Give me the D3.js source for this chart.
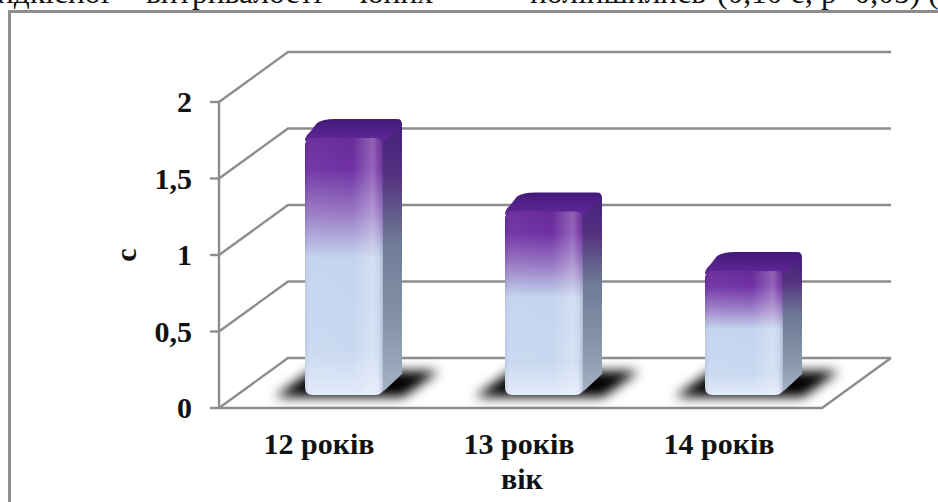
<!DOCTYPE html>
<html>
<head>
<meta charset="utf-8">
<script src="https://cdn.jsdelivr.net/npm/d3@7/dist/d3.min.js"></script>
<style>
html,body{margin:0;padding:0;background:#fff;}
svg{display:block;}
text{font-family:"Liberation Serif",serif;}
</style>
</head>
<body>
<svg id="chart" width="938" height="502"></svg>
<script>
// Chart data
const categories = ["12 років", "13 років", "14 років"];
const values = [1.68, 1.2, 0.81];
const yTicks = [0, 0.5, 1, 1.5, 2];
const yTickLabels = ["0", "0,5", "1", "1,5", "2"];
const yTitle = "с";
const xTitle = "вік";
const runningText = [
  ["ндкісної", -3], ["витривалості", 146], ["юних", 360],
  ["поліпшились", 530], ["(0,10 с; р<0,05) (", 717]
];

const svg = d3.select("#chart");
const defs = svg.append("defs");

const y = d3.scaleLinear().domain([0, 2]).range([408, 102]);
const x = d3.scaleBand().domain(categories).range([219, 819]);
const floorLeft = 219, floorRight = 822;

// Oblique offsets of the 3D projection
const wall = { dx: 69, dy: -50 };
const bar = { w: 78, dx: 19, dy: -19, inset: 86, baseLift: 13 };

function gradient(id, stops, horizontal) {
  const g = defs.append("linearGradient").attr("id", id)
    .attr("x1", 0).attr("y1", 0)
    .attr("x2", horizontal ? 1 : 0).attr("y2", horizontal ? 0 : 1);
  stops.forEach(([o, c, a]) => g.append("stop").attr("offset", o)
    .attr("stop-color", c).attr("stop-opacity", a === undefined ? 1 : a));
}
gradient("frontFill", [[0, "#682a98"], [0.12, "#7030a4"], [0.3, "#9a7cc6"], [0.47, "#c3d4ee"], [0.82, "#c8d8f0"], [1, "#e2eafa"]]);
gradient("sideFill", [[0, "#44207c"], [0.2, "#53307f"], [0.45, "#6f7b96"], [0.75, "#8695aa"], [1, "#a8b4c6"]]);
gradient("topFill", [[0, "#431a78"], [1, "#62289a"]]);
gradient("frontGloss", [[0, "#000", 0.06], [0.06, "#fff", 0.04], [0.6, "#fff", 0], [0.87, "#fff", 0.26], [0.94, "#fff", 0.10], [1, "#334", 0.18]], true);

defs.append("filter").attr("id", "floorBlur")
  .attr("x", "-30%").attr("y", "-80%").attr("width", "160%").attr("height", "260%")
  .append("feGaussianBlur").attr("stdDeviation", 6);

const gridColor = "#8d8d8d";

// Outer frame
svg.append("path").attr("d", "M9.5,502V11.5H938")
  .attr("fill", "none").attr("stroke", gridColor).attr("stroke-width", 3);

// Body text line cropped by the top edge
svg.append("g").selectAll("text").data(runningText).join("text")
  .attr("x", d => d[1]).attr("y", 3)
  .attr("font-size", 31.5).attr("fill", "#111")
  .text(d => d[0]);

// Back wall gridlines and their diagonal links to the value axis
const grid = svg.append("g").attr("fill", "none").attr("stroke", gridColor).attr("stroke-width", 2.4);
grid.selectAll("path.wall").data(yTicks).join("path").attr("class", "wall")
  .attr("d", d => `M${floorLeft},${y(d)}L${floorLeft + wall.dx},${y(d) + wall.dy}H${floorRight + wall.dx}`);

// Value axis with outer ticks, floor front edge and right floor edge
grid.append("path").attr("d", `M${floorLeft},${y(2)}V${y(0)}H${floorRight}L${floorRight + wall.dx},${y(0) + wall.dy}`);
grid.selectAll("line").data(yTicks).join("line")
  .attr("x1", floorLeft - 9).attr("x2", floorLeft)
  .attr("y1", d => y(d)).attr("y2", d => y(d));

const barX = c => x(c) + bar.inset;
const baseY = y(0) - bar.baseLift;

// Floor shadows
svg.append("g").selectAll("path").data(categories).join("path")
  .attr("filter", "url(#floorBlur)").attr("fill", "#000")
  .attr("d", c => {
    const x0 = barX(c), x1 = x0 + bar.w;
    return `M${x0 - 30},${baseY + 2}L${x1 + 20},${baseY + 2}L${x1 + 56},${baseY - 24}L${x0 + 6},${baseY - 24}Z`;
  });

// Bars
const r = 8;
const gBars = svg.append("g").selectAll("g").data(categories.map((c, i) => ({ c, v: values[i] }))).join("g");

gBars.append("path").attr("fill", "url(#sideFill)").attr("d", d => {
  const x1 = barX(d.c) + bar.w, top = y(d.v) - y(0) + baseY;
  return `M${x1 - r},${top}L${x1 + bar.dx - r / 2},${top + bar.dy}Q${x1 + bar.dx},${top + bar.dy} ${x1 + bar.dx},${top + bar.dy + r}
    V${baseY + bar.dy - 2}L${x1 + 2},${baseY - 5}Q${x1 - 4},${baseY} ${x1 - r - 4},${baseY}Z`;
});

gBars.append("path").attr("fill", "url(#topFill)").attr("d", d => {
  const x0 = barX(d.c), x1 = x0 + bar.w, top = y(d.v) - y(0) + baseY;
  return `M${x0},${top + 3}Q${x0},${top - 2} ${x0 + 5},${top - 6}L${x0 + 12},${top + bar.dy + 4}Q${x0 + 18},${top + bar.dy} ${x0 + 30},${top + bar.dy}
    H${x1 + bar.dx - 6}Q${x1 + bar.dx},${top + bar.dy} ${x1 + bar.dx},${top + bar.dy + 6}L${x1},${top + 4}Z`;
});

const frontPath = d => {
  const x0 = barX(d.c), x1 = x0 + bar.w, top = y(d.v) - y(0) + baseY;
  return `M${x0},${top + r}Q${x0},${top} ${x0 + r},${top}H${x1 - r}Q${x1},${top} ${x1},${top + r}
    V${baseY - r}Q${x1},${baseY} ${x1 - r},${baseY}H${x0 + r}Q${x0},${baseY} ${x0},${baseY - r}Z`;
};
gBars.append("path").attr("fill", "url(#frontFill)").attr("d", frontPath);
gBars.append("path").attr("fill", "url(#frontGloss)").attr("d", frontPath);

// Axis labels
const labelStyle = s => s.attr("font-size", 30).attr("font-weight", "bold").attr("fill", "#111");
svg.append("g").selectAll("text").data(yTicks).join("text").call(labelStyle)
  .attr("x", 192).attr("y", d => y(d) + 10).attr("text-anchor", "end")
  .text((d, i) => yTickLabels[i]);
svg.append("g").selectAll("text").data(categories).join("text").call(labelStyle)
  .attr("x", c => x(c) + x.bandwidth() / 2).attr("y", 454).attr("text-anchor", "middle")
  .text(c => c);
svg.append("text").call(labelStyle).attr("x", 522).attr("y", 489).attr("text-anchor", "middle").text(xTitle);
svg.append("text").call(labelStyle).attr("text-anchor", "middle")
  .attr("transform", "translate(136,255) rotate(-90)").text(yTitle);
</script>
</body>
</html>
